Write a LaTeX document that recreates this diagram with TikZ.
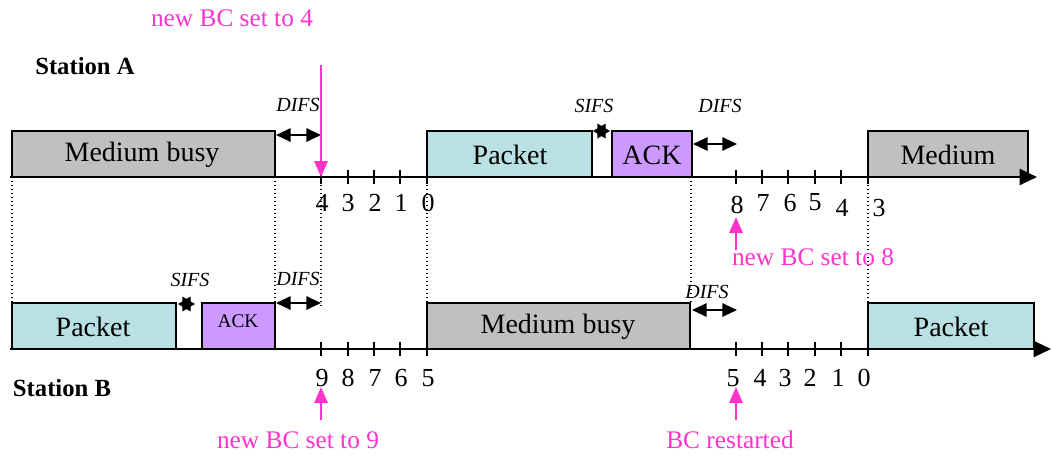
\documentclass[tikz,border=0pt]{standalone}
\usepackage{fontspec}
\setmainfont{Liberation Serif}
\usetikzlibrary{arrows.meta}
\definecolor{busygray}{RGB}{192,192,192}
\definecolor{pktcyan}{RGB}{185,224,226}
\definecolor{ackviolet}{RGB}{204,153,255}
\definecolor{bcpink}{RGB}{255,51,204}
\tikzset{
  frame/.style={draw=black,line width=1.5pt},
  busy/.style={frame,fill=busygray},
  pkt/.style={frame,fill=pktcyan},
  ackbox/.style={frame,fill=ackviolet},
  boxtxt/.style={font=\fontsize{21}{24}\selectfont},
  num/.style={font=\fontsize{19.5}{22}\selectfont},
  ifstxt/.style={font=\itshape\fontsize{15}{17}\selectfont},
  bctxt/.style={text=bcpink,font=\fontsize{19}{22}\selectfont},
  sttxt/.style={font=\bfseries\fontsize{18.5}{21}\selectfont},
  ifs/.style={line width=1.5pt,{Triangle[length=11pt,width=10pt]}-{Triangle[length=11pt,width=10pt]}},
  sifs/.style={line width=1pt,{Triangle[length=9.5pt,width=11pt]}-{Triangle[length=9.5pt,width=11pt]}},
  bc/.style={bcpink,line width=1.5pt,-{Triangle[length=12pt,width=10pt]}},
  axis/.style={line width=1.6pt,-{Triangle[length=13pt,width=12pt]}},
  guide/.style={dotted,line width=1pt}
}
\begin{document}
\begin{tikzpicture}[x=0.75pt,y=-0.75pt]
\useasboundingbox (0,0) rectangle (1051,455);
% dotted guides between the two stations
\foreach \x/\y in {12/302,275/302,321/308,427/302,691/302,868/302}
  \draw[guide](\x,177)--(\x,\y);
% Station A
\node[sttxt] (staA) at (85,66) {Station A};
\draw[busy](12,131) rectangle (275,177);\node[boxtxt] (busyA) at (142,155) {Medium busy};
\draw[pkt](427,131) rectangle (592,177);\node[boxtxt] (pktA) at (510,155) {Packet};
\draw[ackbox](612,131) rectangle (692,177);\node[boxtxt] (ackA) at (652,155) {ACK};
\draw[busy](868,131) rectangle (1028,177);\node[boxtxt] (busyA2) at (948,155) {Medium};
\coordinate (axA0) at (10,177);\coordinate (axA1) at (1037,177);
\draw[axis](axA0)--(axA1);
\foreach \x in {321,348,374,400,427,736,762,788,815,841,868}
  \draw[line width=1.5pt](\x,170)--(\x,184);
\foreach \x/\y/\n in {322/203/4,348/203/3,375/203/2,401/203/1,428/203/0,
  737/205/8,763/203/7,790/203/6,815/202/5,842/208/4,879/208/3}
  \node[num] at (\x,\y) {\n};
\coordinate (difsA1a) at (276,135);\coordinate (difsA1b) at (321,135);
\draw[ifs](difsA1a)--(difsA1b);\node[ifstxt] (difsA1) at (298,105) {DIFS};
\coordinate (sifsAa) at (593,131);\coordinate (sifsAb) at (610,131);
\draw[sifs](sifsAa)--(sifsAb);\node[ifstxt] (sifsA) at (594,106) {SIFS};
\coordinate (difsA2a) at (693,144);\coordinate (difsA2b) at (737,144);
\draw[ifs](difsA2a)--(difsA2b);\node[ifstxt] (difsA2) at (720,106) {DIFS};
\node[bctxt] (bcA4) at (232,18) {new BC set to 4};
\coordinate (bcA4s) at (321,65);\coordinate (bcA4e) at (321,177);
\draw[bc](bcA4s)--(bcA4e);
\node[bctxt] (bcA8) at (813,257) {new BC set to 8};
\coordinate (bcA8s) at (736,250);\coordinate (bcA8e) at (736,217);
\draw[bc](bcA8s)--(bcA8e);
% Station B
\node[sttxt] (staB) at (62,388) {Station B};
\draw[pkt](12,303) rectangle (176,349);\node[boxtxt] (pktB) at (93,327) {Packet};
\draw[ackbox](202,303) rectangle (275,349);\node[font=\fontsize{14.5}{17}\selectfont] (ackB) at (238,321) {ACK};
\draw[busy](427,303) rectangle (690,349);\node[boxtxt] (busyB) at (558,327) {Medium busy};
\draw[pkt](868,303) rectangle (1034,349);\node[boxtxt] (pktB2) at (951,327) {Packet};
\coordinate (axB0) at (10,349);\coordinate (axB1) at (1051,349);
\draw[axis](axB0)--(axB1);
\foreach \x in {321,348,374,400,427,736,762,788,815,841,868}
  \draw[line width=1.5pt](\x,342)--(\x,356);
\foreach \x/\n in {322/9,348/8,375/7,401/6,428/5,733/5,760/4,785/3,810/2,838/1,864/0}
  \node[num] at (\x,378) {\n};
\coordinate (sifsBa) at (178,304);\coordinate (sifsBb) at (195,304);
\draw[sifs](sifsBa)--(sifsBb);\node[ifstxt] (sifsB) at (190,280) {SIFS};
\coordinate (difsB1a) at (276,303);\coordinate (difsB1b) at (321,303);
\draw[ifs](difsB1a)--(difsB1b);\node[ifstxt] (difsB1) at (298,279) {DIFS};
\coordinate (difsB2a) at (692,310);\coordinate (difsB2b) at (737,310);
\draw[ifs](difsB2a)--(difsB2b);\node[ifstxt] (difsB2) at (707,292) {DIFS};
\node[bctxt] (bcB9) at (298,440) {new BC set to 9};
\coordinate (bcB9s) at (321,420);\coordinate (bcB9e) at (321,387);
\draw[bc](bcB9s)--(bcB9e);
\node[bctxt] (bcB5) at (730,440) {BC restarted};
\coordinate (bcB5s) at (736,420);\coordinate (bcB5e) at (736,387);
\draw[bc](bcB5s)--(bcB5e);
\end{tikzpicture}
\end{document}
